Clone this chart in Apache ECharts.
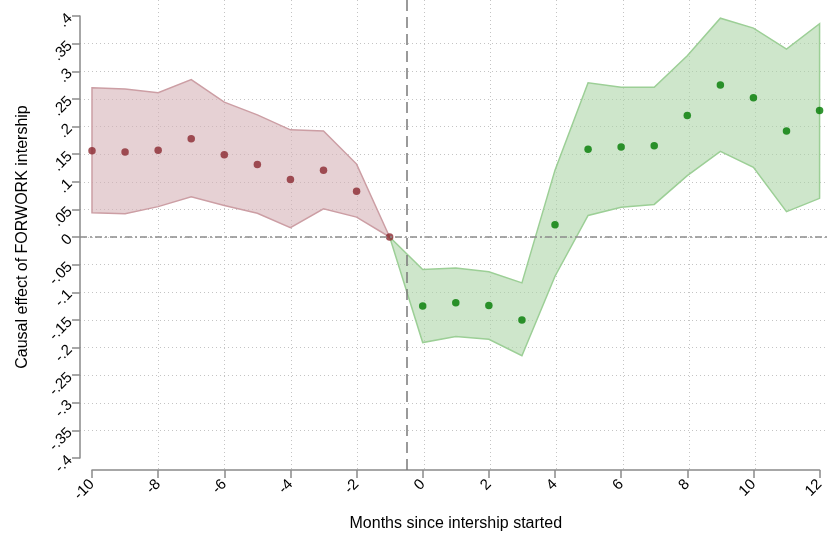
<!DOCTYPE html>
<html>
<head>
<meta charset="utf-8">
<script src="https://cdn.jsdelivr.net/npm/echarts@6/dist/echarts.min.js"></script>
<style>
  html, body { margin: 0; padding: 0; background: #ffffff; }
  #chart { width: 827px; height: 541px; }
</style>
</head>
<body>
<div id="chart"></div>
<script>
// Event-study estimates: months relative to the start of the internship
const preMonths  = [-10, -9, -8, -7, -6, -5, -4, -3, -2, -1];
const preCoef    = [0.156, 0.154, 0.157, 0.178, 0.149, 0.131, 0.104, 0.121, 0.083, 0.000];
const preUpper   = [0.270, 0.268, 0.261, 0.285, 0.244, 0.221, 0.194, 0.192, 0.132, 0.000];
const preLower   = [0.044, 0.042, 0.055, 0.073, 0.057, 0.043, 0.017, 0.051, 0.036, 0.000];

const postBandMonths = [-1, 0, 1, 2, 3, 4, 5, 6, 7, 8, 9, 10, 11, 12];
const postUpper  = [0.000, -0.059, -0.056, -0.063, -0.083, 0.121, 0.279, 0.271, 0.271, 0.328, 0.396, 0.378, 0.340, 0.386];
const postLower  = [0.000, -0.191, -0.180, -0.185, -0.215, -0.071, 0.039, 0.054, 0.059, 0.111, 0.155, 0.126, 0.046, 0.070];

const postMonths = [0, 1, 2, 3, 4, 5, 6, 7, 8, 9, 10, 11, 12];
const postCoef   = [-0.125, -0.119, -0.124, -0.150, 0.022, 0.159, 0.163, 0.165, 0.220, 0.275, 0.252, 0.192, 0.229];

const xTicks = [-10, -8, -6, -4, -2, 0, 2, 4, 6, 8, 10, 12];
const yTicks = [-0.4, -0.35, -0.3, -0.25, -0.2, -0.15, -0.1, -0.05, 0, 0.05, 0.1, 0.15, 0.2, 0.25, 0.3, 0.35, 0.4];

const eventLine = -0.5;

const FONT = '"Liberation Sans", Arial, sans-serif';
const W = 827, H = 541;

// plot region (where the ticks live) and the outer region holding the grid lines
const inner = { left: 92, right: 5, top: 16, bottom: 83 };
const outer = { left: 80, right: 0, top: 0, bottom: 71 };

const xMin = -10, xMax = 12, yMin = -0.4, yMax = 0.4;
const pxX = (W - inner.left - inner.right) / (xMax - xMin);
const pxY = (H - inner.top - inner.bottom) / (yMax - yMin);
const oxMin = xMin - (inner.left - outer.left) / pxX;
const oxMax = xMax + (inner.right - outer.right) / pxX;
const oyMin = yMin - (inner.bottom - outer.bottom) / pxY;
const oyMax = yMax + (inner.top - outer.top) / pxY;

// Stata-style numbers: no leading zero before the decimal point
function stataNum(v) {
  if (Math.abs(v) < 1e-9) return '0';
  let s = (Math.round(v * 100) / 100).toString();
  return s.replace(/^(-?)0\./, '$1.');
}

// confidence band drawn as one closed polygon (upper edge, then lower edge reversed)
function band(xs, lo, hi, fill, stroke) {
  return {
    type: 'custom',
    xAxisIndex: 0, yAxisIndex: 0,
    silent: true, z: 1, clip: false,
    data: xs.map((x, i) => [x, lo[i], hi[i]]),
    encode: { x: 0, y: [1, 2] },
    renderItem(params, api) {
      if (params.dataIndex !== 0) return;
      const pts = [];
      for (let i = 0; i < xs.length; i++) pts.push(api.coord([xs[i], hi[i]]));
      for (let i = xs.length - 1; i >= 0; i--) pts.push(api.coord([xs[i], lo[i]]));
      return {
        type: 'polygon',
        shape: { points: pts },
        style: { fill: fill, stroke: stroke, lineWidth: 1.5, lineJoin: 'miter' }
      };
    }
  };
}

const axisGray = '#8a8a8a';

const chart = echarts.init(document.getElementById('chart'), null, { renderer: 'canvas' });
chart.setOption({
  animation: false,
  backgroundColor: '#ffffff',
  textStyle: { fontFamily: FONT },
  grid: [
    { left: inner.left, right: inner.right, top: inner.top, bottom: inner.bottom, containLabel: false },
    { left: outer.left, right: outer.right, top: outer.top, bottom: outer.bottom, containLabel: false }
  ],
  xAxis: [
    {
      type: 'value', gridIndex: 0, min: xMin, max: xMax, interval: 2, offset: 12,
      axisLine: { show: true, onZero: false, lineStyle: { color: axisGray, width: 1.5 } },
      axisTick: { show: true, length: 8, inside: false, lineStyle: { color: axisGray, width: 1.5 } },
      axisLabel: { rotate: 45, margin: 12, color: '#000', fontSize: 15, fontFamily: FONT,
                   formatter: v => stataNum(v) },
      splitLine: { show: false },
      name: 'Months since intership started', nameLocation: 'middle', nameGap: 46,
      nameTextStyle: { color: '#000', fontSize: 16, fontFamily: FONT }
    },
    {
      type: 'value', gridIndex: 1, min: oxMin, max: oxMax,
      axisLine: { show: false }, axisTick: { show: false, customValues: xTicks },
      axisLabel: { show: false, customValues: xTicks },
      splitLine: { show: true, showMinLine: false, showMaxLine: false,
                   lineStyle: { color: '#c4c4c4', width: 1, type: [1, 3] } }
    }
  ],
  yAxis: [
    {
      type: 'value', gridIndex: 0, min: yMin, max: yMax, interval: 0.05, offset: 12,
      axisLine: { show: true, onZero: false, lineStyle: { color: axisGray, width: 1.5 } },
      axisTick: { show: true, length: 8, inside: false, lineStyle: { color: axisGray, width: 1.5 } },
      axisLabel: { rotate: 45, margin: 10, color: '#000', fontSize: 15, fontFamily: FONT,
                   formatter: v => stataNum(v) },
      splitLine: { show: false },
      name: 'Causal effect of FORWORK intership', nameLocation: 'middle', nameGap: 49,
      nameTextStyle: { color: '#000', fontSize: 16, fontFamily: FONT }
    },
    {
      type: 'value', gridIndex: 1, min: oyMin, max: oyMax,
      axisLine: { show: false }, axisTick: { show: false, customValues: yTicks },
      axisLabel: { show: false, customValues: yTicks },
      splitLine: { show: true, showMinLine: false, showMaxLine: false,
                   lineStyle: { color: '#c4c4c4', width: 1, type: [1, 3] } }
    }
  ],
  series: [
    band(preMonths, preLower, preUpper, 'rgba(214,178,183,0.6)', '#cc9ea4'),
    band(postBandMonths, postLower, postUpper, 'rgba(170,212,165,0.58)', '#9ccf96'),
    {
      type: 'line', xAxisIndex: 1, yAxisIndex: 1, data: [], z: 2, silent: true,
      markLine: {
        symbol: 'none', silent: true, label: { show: false },
        animation: false,
        data: [
          { yAxis: 0, lineStyle: { color: '#8c8c8c', width: 1.5, type: [7, 3, 2, 3] } },
          { xAxis: eventLine, lineStyle: { color: '#7a7a7a', width: 1.5, type: [11, 6] } }
        ]
      }
    },
    {
      type: 'scatter', xAxisIndex: 0, yAxisIndex: 0, z: 3, silent: true,
      symbol: 'circle', symbolSize: 7.5,
      itemStyle: { color: '#8b2830' },
      data: preMonths.map((m, i) => [m, preCoef[i]])
    },
    {
      type: 'scatter', xAxisIndex: 0, yAxisIndex: 0, z: 3, silent: true,
      symbol: 'circle', symbolSize: 7.5,
      itemStyle: { color: '#007a00' },
      data: postMonths.map((m, i) => [m, postCoef[i]])
    }
  ]
});
</script>
</body>
</html>
